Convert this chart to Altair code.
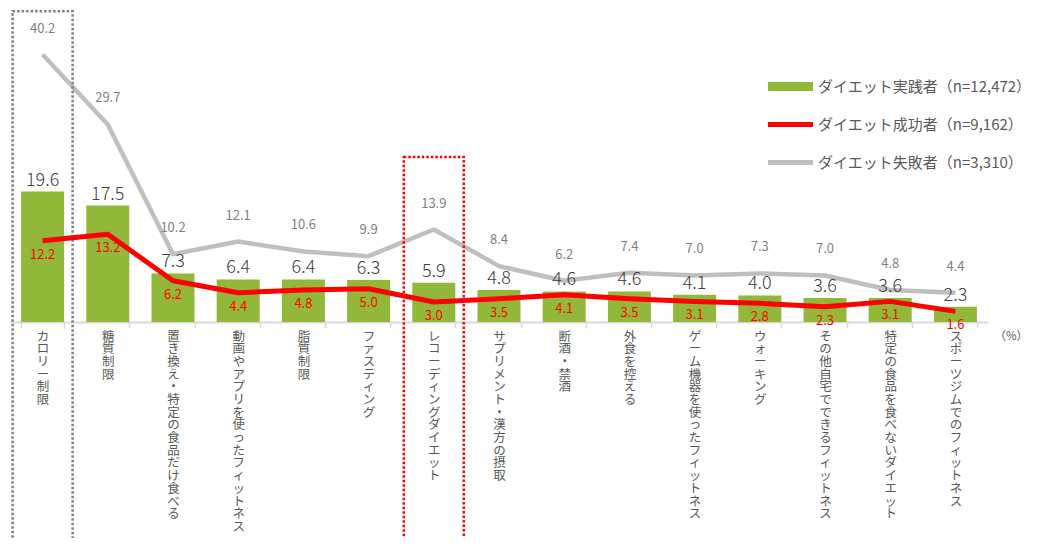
import altair as alt
import pandas as pd

categories = ["カロリー制限", "糖質制限", "置き換え・特定の食品だけ食べる", "動画やアプリを使ったフィットネス",
              "脂質制限", "ファスティング", "レコーディングダイエット", "サプリメント・漢方の摂取", "断酒・禁酒",
              "外食を控える", "ゲーム機器を使ったフィットネス", "ウォーキング", "その他自宅でできるフィットネス",
              "特定の食品を食べないダイエット", "スポーツジムでのフィットネス"]
practitioners = [19.6, 17.5, 7.3, 6.4, 6.4, 6.3, 5.9, 4.8, 4.6, 4.6, 4.1, 4.0, 3.6, 3.6, 2.3]
success = [12.2, 13.2, 6.2, 4.4, 4.8, 5.0, 3.0, 3.5, 4.1, 3.5, 3.1, 2.8, 2.3, 3.1, 1.6]
failure = [40.2, 29.7, 10.2, 12.1, 10.6, 9.9, 13.9, 8.4, 6.2, 7.4, 7.0, 7.3, 7.0, 4.8, 4.4]
series_names = ["ダイエット実践者（n=12,472）", "ダイエット成功者（n=9,162）", "ダイエット失敗者（n=3,310）"]
series_colors = ["#92b83a", "#ff0000", "#bfbfbf"]
legend_shapes = ["M-1,-0.2H1V0.2H-1Z", "M-1,-0.11H1V0.11H-1Z", "M-1,-0.11H1V0.11H-1Z"]

highlight_categories = ["カロリー制限", "レコーディングダイエット"]
highlight_tops = [46.7, 24.8]
highlight_bottoms = [-40, -40]
highlight_colors = ["#7f7f7f", "#ff0000"]

FONT = "Noto Sans CJK JP"

bars_df = pd.DataFrame({"category": categories, "value": practitioners, "series": series_names[0]})
succ_df = pd.DataFrame({"category": categories, "value": success, "series": series_names[1]})
fail_df = pd.DataFrame({"category": categories, "value": failure, "series": series_names[2]})
all_df = pd.concat([bars_df, succ_df, fail_df], ignore_index=True)
box_df = pd.DataFrame({"category": highlight_categories, "top": highlight_tops,
                       "bottom": highlight_bottoms, "color": highlight_colors})

x_enc = alt.X(
    "category:N", sort=categories,
    scale=alt.Scale(paddingInner=0.34, paddingOuter=0.17),
    axis=alt.Axis(
        title="（%）", titleX=984, titleY=14, titleAngle=0, titleAlign="left",
        titleBaseline="middle", titleFontSize=11.5, titleFontWeight="normal",
        titleColor="#595959", titleFont=FONT, grid=False,
        labelExpr="split(datum.label, '')", labelAngle=0, labelAlign="center",
        labelBaseline="top", labelLineHeight=12.7, labelFontSize=12.5,
        labelColor="#595959", labelFont=FONT, labelPadding=2, labelOverlap=False,
        tickBand="extent", tickColor="#d9d9d9", tickSize=6, tickWidth=1.5,
        domainColor="#d9d9d9", domainWidth=2,
    ),
)
y_scale = alt.Scale(domain=[0, 46.6], nice=False, zero=False)
y_enc = alt.Y("value:Q", scale=y_scale, axis=None)

color_scale = alt.Scale(domain=series_names, range=series_colors)
legend = alt.Legend(
    orient="none", legendX=758, legendY=52, title=None,
    symbolSize=2025, symbolStrokeWidth=0, symbolOpacity=1,
    labelFont=FONT, labelFontSize=15, labelColor="#595959", labelOffset=5,
    rowPadding=7, padding=0, labelLimit=0,
)
color_enc = alt.Color("series:N", scale=color_scale, legend=legend)

bars = alt.Chart(bars_df).mark_bar(color=series_colors[0]).encode(
    x=x_enc, y=y_enc, color=color_enc
)
grey_line = alt.Chart(fail_df).mark_line(strokeWidth=4.5, strokeJoin="round").encode(
    x=x_enc, y=y_enc, color=color_enc
)
red_line = alt.Chart(succ_df).mark_line(strokeWidth=5, strokeJoin="round").encode(
    x=x_enc, y=y_enc, color=color_enc
)
legend_keys = alt.Chart(all_df).mark_point(filled=True, opacity=0).encode(
    x=x_enc, y=y_enc, color=color_enc,
    shape=alt.Shape("series:N", scale=alt.Scale(domain=series_names, range=legend_shapes), legend=legend),
)
bar_labels = alt.Chart(bars_df).mark_text(
    baseline="alphabetic", dy=-6, fontSize=18, fontWeight=300, color="#404040", font=FONT
).encode(x=x_enc, y=y_enc, text=alt.Text("value:Q", format=".1f"))
grey_labels = alt.Chart(fail_df).mark_text(
    baseline="alphabetic", dy=-22, fontSize=13, color="#7f7f7f", font=FONT
).encode(x=x_enc, y=y_enc, text=alt.Text("value:Q", format=".1f"))
red_labels = alt.Chart(succ_df).mark_text(
    baseline="top", dy=8, fontSize=13, color="#ff0000", font=FONT
).encode(x=x_enc, y=y_enc, text=alt.Text("value:Q", format=".1f"))
boxes = alt.Chart(box_df).mark_bar(
    filled=False, strokeDash=[2.5, 2], strokeWidth=2.5, width=60
).encode(
    x=x_enc, y=alt.Y("top:Q", scale=y_scale, axis=None), y2="bottom:Q",
    stroke=alt.Stroke("color:N", scale=None)
)

chart = alt.layer(
    legend_keys, bars, grey_line, boxes, red_line, bar_labels, grey_labels, red_labels
).properties(
    width=978, height=310, background="white",
    autosize=alt.AutoSizeParams(type="none"),
    padding={"left": 2, "top": 4, "right": 42, "bottom": 216},
).configure_view(stroke="transparent", strokeWidth=0)

chart.save("out.html", embed_options={"renderer": "svg", "actions": False})
